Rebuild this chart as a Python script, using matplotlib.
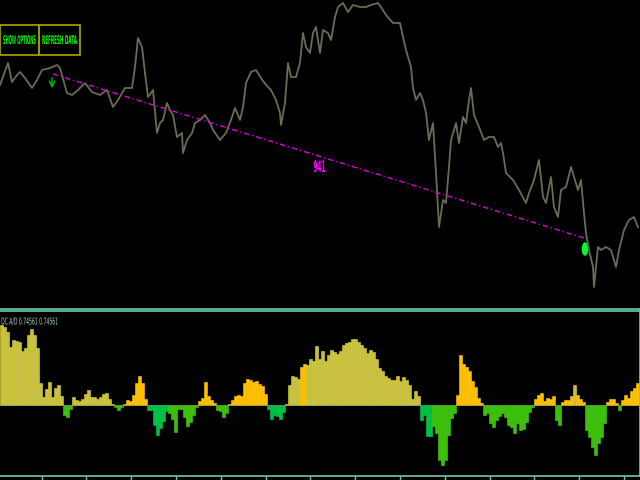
import numpy as np
import matplotlib
matplotlib.use('Agg')
import matplotlib.pyplot as plt
from matplotlib.patches import Rectangle, Ellipse
from matplotlib import patheffects
from matplotlib.transforms import Affine2D

# price trace (x = chart position, value = price level in chart units)
price_x = [0, 8, 12, 17, 20, 25, 32, 37, 42, 50, 57, 60, 67, 72, 78, 85, 92, 100, 107, 113,
           118, 125, 132, 135, 138, 142, 145, 148, 153, 157, 160, 163, 167, 170, 173, 177, 182, 183, 187, 192,
           195, 200, 205, 210, 213, 220, 226, 231, 235, 240, 243, 246, 251, 256, 261, 266, 271, 276, 280, 281,
           285, 288, 291, 296, 300, 303, 306, 310, 313, 316, 320, 323, 328, 331, 335, 338, 343, 348, 353, 360,
           366, 371, 378, 381, 386, 393, 400, 403, 406, 411, 413, 416, 420, 423, 426, 429, 433, 436, 439, 443,
           446, 449, 451, 456, 459, 463, 466, 469, 471, 474, 479, 484, 489, 494, 498, 501, 503, 506, 513, 519,
           526, 529, 534, 539, 543, 546, 551, 554, 558, 561, 566, 571, 574, 578, 581, 584, 586, 589, 593, 594,
           598, 601, 606, 611, 616, 619, 624, 629, 634, 638]
price_y = [215, 237, 218, 225, 228, 222, 212, 220, 230, 232, 235, 232, 207, 205, 210, 217, 208, 205, 210, 193,
           200, 212, 212, 233, 262, 253, 227, 203, 210, 167, 177, 180, 197, 190, 185, 163, 167, 147, 160, 167,
           177, 180, 185, 177, 170, 160, 167, 180, 192, 180, 193, 217, 228, 230, 222, 215, 210, 200, 187, 175,
           197, 237, 223, 223, 237, 267, 253, 247, 267, 273, 247, 270, 267, 260, 283, 293, 297, 288, 295, 293,
           293, 295, 297, 293, 285, 277, 277, 263, 250, 233, 212, 200, 207, 200, 187, 160, 177, 127, 73, 100,
           97, 133, 160, 177, 157, 183, 177, 200, 212, 185, 173, 160, 163, 163, 153, 157, 147, 127, 120, 110,
           97, 107, 120, 140, 103, 97, 123, 93, 83, 110, 113, 133, 123, 110, 120, 87, 67, 50, 33, 13,
           53, 50, 53, 50, 33, 50, 70, 80, 83, 73]

# trend line and signals
trend_x = [53, 584]
trend_y = [226, 62]
trend_label = "941"
arrow_x, arrow_y = 52, 225
dot_x, dot_y = 585, 51

# oscillator histogram, one value per bar
osc = [80, 78, 73, 58, 65, 64, 63, 54, 57, 70,
       76, 70, 57, 22, 8, 16, 23, 8, 17, 20,
       9, -10, -12, -4, 8, 5, 4, 6, 11, 15,
       8, 8, 6, 8, 11, 12, 6, 1, -2, -5,
       -2, 1, 5, 4, 10, 22, 29, 22, 6, -5,
       -5, -20, -30, -23, -16, -6, -8, -14, -27, -4,
       -4, -12, -21, -17, -10, -2, 4, 7, 23, 9,
       5, 2, -5, -6, -12, -8, 1, 5, 9, 10,
       9, 22, 26, 25, 23, 24, 21, 19, 11, -4,
       -14, -10, -11, -14, -7, 1, 20, 29, 28, 26,
       38, 41, 40, 46, 44, 59, 46, 54, 44, 50,
       55, 53, 51, 54, 60, 62, 63, 66, 66, 63,
       60, 57, 52, 55, 53, 46, 37, 34, 29, 27,
       25, 25, 29, 24, 28, 25, 20, 6, 14, 9,
       -15, -10, -31, -31, -21, -28, -55, -60, -55, -30,
       -13, -8, 10, 50, 41, 38, 34, 24, 18, 7,
       2, -10, -8, -18, -22, -15, -11, -8, -12, -20,
       -22, -28, -18, -25, -24, -17, -7, -2, 6, 10,
       12, 4, 7, 6, 9, -15, -20, 3, 5, 5,
       9, 20, 10, 6, 3, -25, -32, -42, -50, -38,
       -32, -18, 3, 6, 6, 2, -5, 5, 10, 7,
       14, 17, 22]
# bar state: K strong up, O up, G down, T strong down
osc_state = ("K" * 21 + "G" * 3 + "K" * 14 + "G" * 3 + "O" * 8 + "T" * 7 + "G" * 10 + "O" * 6
             + "G" * 4 + "O" * 13 + "T" * 6 + "K" * 5 + "O" * 2 + "K" * 38 + "T" * 4 + "G" * 8
             + "O" * 9 + "G" * 17 + "O" * 7 + "G" * 2 + "O" * 4 + "K" + "O" * 3 + "G" * 7
             + "O" * 4 + "G" + "O" * 6)
osc_label = "OC A/D 0.74561 0.74561"

fills = {"K": "#c6be4c", "O": "#ffbf00", "G": "#3cbf0c", "T": "#00bf44"}
edges = {"K": "#e4dc18", "O": "#ffcf10", "G": "#44d010", "T": "#00d050"}
teal = "#6fcaa8"


class Squeeze(patheffects.AbstractPathEffect):
    # narrow a text horizontally around a pixel x position
    def __init__(self, cx, sx):
        super().__init__()
        self.cx, self.sx = cx, sx

    def draw_path(self, renderer, gc, tpath, affine, rgbFace=None):
        aff = affine + Affine2D().translate(-self.cx, 0).scale(self.sx, 1).translate(self.cx, 0)
        renderer.draw_path(gc, tpath, aff, rgbFace)


def squeeze(t, width_px, cx_px):
    r = fig.canvas.get_renderer()
    w = t.get_window_extent(r).width
    t.set_path_effects([Squeeze(cx_px, width_px / w)])


fig = plt.figure(figsize=(6.4, 4.8), dpi=100, facecolor="black")

# main price panel
ax = fig.add_axes([0, 1 - 309 / 480, 1, 309 / 480])
ax.set_facecolor("black")
ax.plot(price_x, price_y, color="#6c6c52", lw=1.3)
ax.plot(trend_x, trend_y, color="#e000e0", lw=1.0, ls=(0, (4, 2, 1, 2)))
t941 = ax.text(319.5, 132.5, trend_label, color="#ff00ff", fontsize=11.5, fontweight="bold",
               ha="center", va="center")
squeeze(t941, 12, 319.5)
ax.annotate("", xy=(arrow_x, arrow_y - 16), xytext=(arrow_x, arrow_y),
            arrowprops=dict(arrowstyle="->", color="#00c000", lw=1.0))
ax.add_patch(Ellipse((dot_x, dot_y), 5, 12, color="#00ff30"))
ax.set_xlim(0, 640)
ax.set_ylim(-9, 300)
ax.set_xticks([])
ax.set_yticks([])
for s in ["top", "left", "right"]:
    ax.spines[s].set_visible(False)
ax.spines["bottom"].set_color(teal)
ax.spines["bottom"].set_linewidth(1.2)

# buttons
for x0, x1, label in [(0, 39, "SHOW OPTIONS"), (39, 80, "REFRESH DATA")]:
    fig.add_artist(Rectangle((x0 / 640, 1 - 55 / 480), (x1 - x0) / 640, 30 / 480,
                             transform=fig.transFigure, fill=False,
                             edgecolor="#9c9c00", lw=1.3))
    tb = fig.text((x0 + x1) / 2 / 640, 1 - 40.5 / 480, label, color="#00ff00", fontsize=8.5,
                  fontweight="bold", ha="center", va="center")
    squeeze(tb, x1 - x0 - 6, (x0 + x1) / 2)

# oscillator panel
ax2 = fig.add_axes([0, 4 / 480, 639.5 / 640, 165 / 480])
ax2.set_facecolor("black")
pos = np.arange(len(osc)) * 3 + 1.5
ax2.bar(pos, osc, width=3, color=[fills[c] for c in osc_state],
        edgecolor=[edges[c] for c in osc_state], linewidth=0.4)
ax2.axhline(0, color="#8a8a8a", lw=0.8, ls=(0, (1, 2)))
tl = ax2.text(1, 83, osc_label, color="#a8d8cc", fontsize=6.8,
              ha="left", va="center")
squeeze(tl, 57, 1)
ax2.set_xlim(0, 639.5)
ax2.set_ylim(-71, 94)
ax2.set_yticks([])
ax2.set_xticks(np.arange(41.6, 640, 44.8))
ax2.set_xticklabels([])
ax2.tick_params(axis="x", direction="out", length=3, color=teal, width=1)
ax2.spines["left"].set_visible(False)
for s in ["top", "right", "bottom"]:
    ax2.spines[s].set_color(teal)
    ax2.spines[s].set_linewidth(1.2)

fig.savefig("out.png", dpi=100, facecolor="black")
